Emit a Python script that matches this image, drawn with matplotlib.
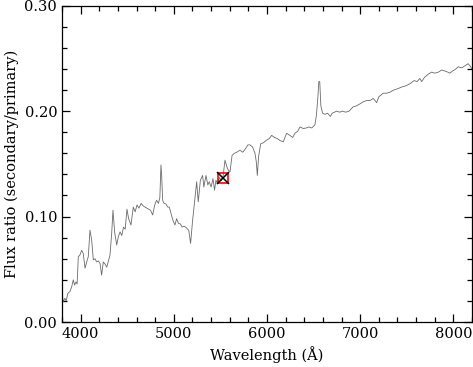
import matplotlib
matplotlib.use('Agg')
import matplotlib.pyplot as plt
from matplotlib.ticker import MultipleLocator

# 波长 (Å) 与流量比, 从原图读取, 分三段
wave_blue = [3800, 3812, 3830, 3845, 3862, 3886, 3904, 3921, 3935, 3950,
             3962, 3975, 3992, 4011, 4028, 4047, 4065, 4082, 4100, 4118,
             4136, 4154, 4172, 4190, 4208, 4225, 4243, 4262, 4280, 4298,
             4315, 4333, 4347, 4365, 4387, 4405, 4423, 4441, 4460, 4478,
             4497, 4515, 4540, 4565, 4585, 4605, 4625, 4650, 4672, 4690,
             4710, 4730, 4750, 4773, 4795, 4815, 4835, 4850, 4862, 4870,
             4880, 4895, 4915, 4935, 4951, 4970, 4990, 5012, 5030, 5050,
             5070, 5090, 5110, 5138, 5160, 5180, 5200]
flux_blue = [0.030, 0.019, 0.0225, 0.020, 0.027, 0.029, 0.0335, 0.040, 0.035, 0.038,
             0.036, 0.062, 0.0635, 0.068, 0.065, 0.051, 0.057, 0.062, 0.087, 0.078,
             0.059, 0.060, 0.057, 0.058, 0.0555, 0.0445, 0.057, 0.055, 0.052, 0.058,
             0.0635, 0.084, 0.106, 0.085, 0.073, 0.081, 0.0855, 0.082, 0.090, 0.088,
             0.107, 0.098, 0.092, 0.109, 0.1045, 0.111, 0.108, 0.1125, 0.110, 0.109,
             0.108, 0.107, 0.106, 0.1015, 0.111, 0.1155, 0.1125, 0.118, 0.149, 0.138,
             0.1155, 0.1125, 0.112, 0.109, 0.109, 0.103, 0.0965, 0.092, 0.098, 0.0935,
             0.093, 0.090, 0.091, 0.089, 0.087, 0.0745, 0.095]

wave_mid = [5215, 5227, 5245, 5262, 5285, 5309, 5322, 5345, 5365, 5380,
            5400, 5420, 5437, 5452, 5470, 5490, 5510, 5530, 5549, 5570,
            5585, 5603, 5625, 5650, 5675, 5710, 5740, 5770, 5795, 5817,
            5845, 5871, 5885, 5896, 5910, 5932, 5960, 5996, 6025, 6050,
            6080, 6110, 6140, 6175, 6210, 6246, 6275, 6300, 6330, 6354,
            6390, 6420, 6450, 6480, 6514, 6530, 6545, 6556, 6566, 6578,
            6597, 6622, 6650]
flux_mid = [0.108, 0.119, 0.133, 0.114, 0.1345, 0.139, 0.128, 0.139, 0.130, 0.133,
            0.128, 0.136, 0.125, 0.1345, 0.131, 0.137, 0.134, 0.139, 0.1535, 0.147,
            0.144, 0.1425, 0.158, 0.160, 0.161, 0.163, 0.161, 0.1645, 0.168, 0.168,
            0.166, 0.160, 0.152, 0.139, 0.157, 0.169, 0.170, 0.1725, 0.174, 0.177,
            0.175, 0.174, 0.172, 0.171, 0.179, 0.177, 0.175, 0.179, 0.181, 0.185,
            0.1835, 0.184, 0.185, 0.184, 0.187, 0.196, 0.212, 0.228, 0.228, 0.205,
            0.198, 0.197, 0.198]

wave_red = [6680, 6700, 6725, 6747, 6780, 6810, 6845, 6880, 6924, 6960,
            7000, 7035, 7069, 7105, 7140, 7160, 7176, 7200, 7247, 7285,
            7320, 7360, 7409, 7450, 7490, 7534, 7580, 7610, 7641, 7659,
            7690, 7730, 7767, 7800, 7840, 7874, 7910, 7940, 7963, 7990,
            8020, 8052, 8090, 8125, 8159, 8180, 8200]
flux_red = [0.195, 0.198, 0.199, 0.200, 0.199, 0.200, 0.199, 0.200, 0.204, 0.205,
            0.207, 0.209, 0.210, 0.210, 0.212, 0.210, 0.208, 0.2136, 0.217, 0.217,
            0.218, 0.220, 0.2215, 0.223, 0.224, 0.226, 0.229, 0.228, 0.231, 0.228,
            0.232, 0.235, 0.237, 0.236, 0.237, 0.239, 0.238, 0.237, 0.236, 0.238,
            0.2395, 0.242, 0.241, 0.243, 0.245, 0.2427, 0.240]

# 测光点 (红框与黑叉)
phot_wave = [5525]
phot_flux = [0.137]

wave = wave_blue + wave_mid + wave_red
flux = flux_blue + flux_mid + flux_red

plt.rcParams['font.family'] = ['DejaVu Serif']
fig = plt.figure(figsize=(4.73, 3.67), dpi=100)
ax = fig.add_axes([0.1311, 0.1226, 0.8668, 0.8619])

ax.plot(wave, flux, color='#6a6a6a', lw=0.6)
ax.plot(phot_wave, phot_flux, marker='s', ms=7, mfc='none', mec='red',
        mew=1.2, ls='none')
ax.plot(phot_wave, phot_flux, marker='x', ms=9, color='black',
        mew=1.1, ls='none')

ax.set_xlim(3800, 8200)
ax.set_ylim(0, 0.30)
ax.xaxis.set_major_locator(MultipleLocator(1000))
ax.xaxis.set_minor_locator(MultipleLocator(200))
ax.yaxis.set_major_locator(MultipleLocator(0.10))
ax.yaxis.set_minor_locator(MultipleLocator(0.02))
ax.yaxis.set_major_formatter(plt.FormatStrFormatter('%.2f'))
ax.tick_params(which='both', direction='in', top=True, right=True,
               labelsize=10.5, width=0.9)
ax.tick_params(which='major', length=6)
ax.tick_params(which='minor', length=3.5)
for s in ax.spines.values():
    s.set_linewidth(0.9)

ax.set_xlabel(u'Wavelength (Å)', fontsize=10.5, labelpad=4)
ax.set_ylabel('Flux ratio (secondary/primary)', fontsize=10.5, labelpad=4)

plt.savefig('out.png', dpi=100)
